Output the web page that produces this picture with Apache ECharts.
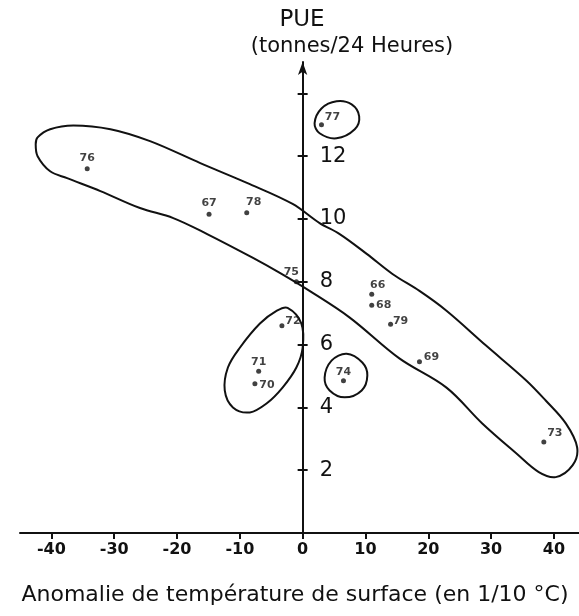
<!DOCTYPE html>
<html>
<head>
<meta charset="utf-8">
<script src="https://cdn.jsdelivr.net/npm/echarts@6/dist/echarts.min.js"></script>
<style>html,body{margin:0;padding:0;background:#fff}#c{width:579px;height:616px}</style>
</head>
<body>
<div id="c"></div>
<script>
// ---- data ----
const years   = ['76','67','78','75','77','66','68','79','69','72','71','70','74','73'];
const anomaly = [-34.3,-14.9,-8.9,-1.0,3.0,11.0,11.0,14.0,18.6,-3.3,-7.0,-7.6,6.5,38.4];
const pue     = [11.6,10.15,10.2,8.0,13.0,7.6,7.25,6.65,5.45,6.6,5.15,4.75,4.85,2.9];

const xTickValues = [-40,-30,-20,-10,0,10,20,30,40];
const yTickValues = [2,4,6,8,10,12,14];
const yLabelValues = [2,4,6,8,10,12];

// hand-drawn enclosures (outline points in data units)
const bandLoop = [
  [-42.5,12.38],[-42.2,12.6],[-40.2,12.86],[-36.5,12.98],[-30.6,12.86],[-24.3,12.48],
  [-16.3,11.78],[-8.4,11.11],[-1.6,10.48],[2.7,9.87],[5.9,9.52],[10.2,8.89],[14.3,8.25],
  [18.6,7.71],[22.9,7.08],[29.2,5.97],[35.6,4.86],[38.7,4.22],[41.9,3.49],[43.7,2.73],
  [43.0,2.16],[40.3,1.78],[37.6,1.94],[34.0,2.54],[28.6,3.49],[22.9,4.63],[15.4,5.56],
  [7.5,6.86],[1.1,7.71],[-3.7,8.29],[-7.9,8.76],[-15.2,9.52],[-20.6,10.03],[-25.9,10.35],
  [-32.2,10.89],[-37.5,11.30],[-40.2,11.52],[-42.2,12.0]
];
const leftLoop = [
  [-2.4,7.17],[-0.2,6.67],[0,5.9],[-1.0,5.27],[-3.2,4.63],[-5.7,4.13],[-8.4,3.84],
  [-11.1,4.0],[-12.4,4.54],[-11.9,5.27],[-10.0,5.9],[-6.8,6.67],[-4.1,7.08]
];
const loop77 = [[1.9,13.05],[3.0,13.52],[5.4,13.75],[7.8,13.65],[9.0,13.27],[8.3,12.86],[5.4,12.57],[2.7,12.73]];
const loop74 = [[3.5,4.95],[4.6,5.49],[7.0,5.71],[9.5,5.43],[10.3,5.02],[9.4,4.54],[6.7,4.32],[4.3,4.54]];

// ---- label placement (style, pixels) ----
const labelOffset = {
  '76':[0,-11],'67':[0,-11],'78':[7,-11],'75':[-5,-10],'77':[11,-8],'66':[6,-9],
  '68':[12,0],'79':[10,-3],'69':[12,-5],'72':[11,-5],'71':[0,-9],'70':[12,1],
  '74':[0,-9],'73':[11,-9]
};

const INK = '#111';
const FONT = 'DejaVu Sans';
const GRID_LEFT = 20;

function loopSeries(pts) {
  return {
    type: 'custom', coordinateSystem: 'cartesian2d', silent: true, clip: false,
    data: [[pts[0][0], pts[0][1]]],
    renderItem: function (params, api) {
      return {
        type: 'polygon',
        shape: { points: pts.map(function (p) { return api.coord(p); }), smooth: 0.35 },
        style: { fill: 'none', stroke: INK, lineWidth: 2 }
      };
    }
  };
}

const pointData = years.map(function (y, i) {
  return {
    value: [anomaly[i], pue[i]],
    name: y,
    label: { offset: labelOffset[y] }
  };
});

const chart = echarts.init(document.getElementById('c'), null, { renderer: 'canvas' });
chart.setOption({
  animation: false,
  backgroundColor: '#fff',
  grid: { left: GRID_LEFT, right: 0, top: 62, bottom: 83, containLabel: false },
  xAxis: {
    type: 'value', min: -45, max: 44,
    splitLine: { show: false },
    axisLine: { onZero: false, lineStyle: { color: INK, width: 2 } },
    axisTick: { show: true, length: 6, customValues: xTickValues, lineStyle: { color: INK, width: 2 } },
    axisLabel: { customValues: xTickValues, color: INK, fontSize: 16, fontWeight: 'bold', fontFamily: FONT, margin: 9 }
  },
  yAxis: [{
    type: 'value', min: 0, max: 15, position: 'left',
    splitLine: { show: false },
    axisLine: { onZero: false, symbol: ['none', 'arrow'], symbolSize: [7, 13], lineStyle: { color: INK, width: 2 } },
    axisTick: { show: true, length: 5, customValues: yTickValues, lineStyle: { color: INK, width: 2 } },
    axisLabel: { customValues: yLabelValues, inside: true, margin: 17, color: INK, fontSize: 21, fontFamily: FONT }
  }, {
    type: 'value', min: 0, max: 15, position: 'left',
    splitLine: { show: false },
    axisLine: { show: false, onZero: false },
    axisTick: { show: true, inside: true, length: 5, customValues: yTickValues, lineStyle: { color: INK, width: 2 } },
    axisLabel: { show: false }
  }],
  series: [
    loopSeries(bandLoop),
    loopSeries(leftLoop),
    loopSeries(loop77),
    loopSeries(loop74),
    {
      type: 'scatter',
      symbol: 'circle', symbolSize: 5,
      itemStyle: { color: INK },
      data: pointData,
      label: {
        show: true, position: 'inside',
        formatter: function (p) { return p.name; },
        color: INK, fontSize: 11, fontWeight: 'bold', fontFamily: FONT
      },
      z: 5
    }
  ],
  graphic: [
    { type: 'text', x: 302, y: 20, style: { text: 'PUE', fill: INK, font: '23px "DejaVu Sans"', textAlign: 'center', textVerticalAlign: 'middle' } },
    { type: 'text', x: 352, y: 47, style: { text: '(tonnes/24 Heures)', fill: INK, font: '21px "DejaVu Sans"', textAlign: 'center', textVerticalAlign: 'middle' } },
    { type: 'text', x: 295, y: 595, style: { text: 'Anomalie de température de surface (en 1/10 °C)', fill: INK, font: '22px "DejaVu Sans"', textAlign: 'center', textVerticalAlign: 'middle' } }
  ]
});

// move the vertical axis onto x = 0 using the library's own x scale
const zeroPx = chart.convertToPixel({ xAxisIndex: 0 }, 0);
const off = -(zeroPx - GRID_LEFT);
chart.setOption({ yAxis: [{ offset: off }, { offset: off }] });
</script>
</body>
</html>
